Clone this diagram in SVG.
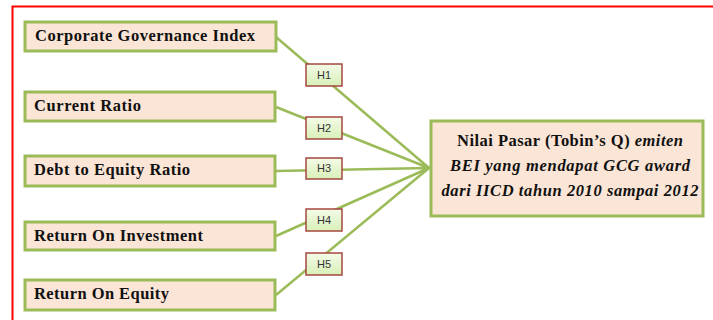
<svg xmlns="http://www.w3.org/2000/svg" width="713" height="320" viewBox="0 0 713 320">
<defs>
<linearGradient id="hg" x1="0" y1="0" x2="0" y2="1">
<stop offset="0" stop-color="#f4fbe8"/>
<stop offset="1" stop-color="#d8f0b8"/>
</linearGradient>
<marker id="ah" markerWidth="8" markerHeight="8" refX="6" refY="4" orient="auto" markerUnits="userSpaceOnUse">
<path d="M0,0 L7,4 L0,8 Z" fill="#9bbb59"/>
</marker>
</defs>
<style>
.box{fill:#fbe5d6;stroke:#9bbb59;stroke-width:3}
.lbl{font-family:"Liberation Serif","Times New Roman",serif;font-weight:bold;font-size:16.5px;fill:#111}
.hb{fill:url(#hg);stroke:#a5473f;stroke-width:1.5}
.ht{font-family:"Liberation Sans",Arial,sans-serif;font-size:11px;fill:#333;text-anchor:middle}
.ln{stroke:#9bbb59;stroke-width:2.5;fill:none}
.tt{font-family:"Liberation Serif","Times New Roman",serif;font-weight:bold;font-size:16.5px;fill:#111;text-anchor:middle}
</style>
<rect width="713" height="320" fill="#fff"/>
<path d="M12.5 320 V6.5 H713" fill="none" stroke="#ff0000" stroke-width="2"/>
<g id="connectors">
<line class="ln" x1="276" y1="37" x2="429" y2="168"/>
<line class="ln" x1="276" y1="107" x2="429" y2="168"/>
<line class="ln" x1="276" y1="171" x2="429" y2="168"/>
<line class="ln" x1="276" y1="236" x2="429" y2="168"/>
<line class="ln" x1="276" y1="295" x2="429" y2="168"/>
<line class="ln" x1="420" y1="168" x2="430" y2="168" marker-end="url(#ah)"/>
</g>
<g id="n1"><rect class="box" x="25" y="22" width="251" height="29"/><text class="lbl" x="35" y="41" textLength="220" lengthAdjust="spacing">Corporate Governance Index</text></g>
<g id="n2"><rect class="box" x="25" y="92" width="250" height="29"/><text class="lbl" x="34" y="111" textLength="107" lengthAdjust="spacing">Current Ratio</text></g>
<g id="n3"><rect class="box" x="25" y="156" width="250" height="30"/><text class="lbl" x="34" y="175" textLength="156" lengthAdjust="spacing">Debt to Equity Ratio</text></g>
<g id="n4"><rect class="box" x="25" y="222" width="250" height="28"/><text class="lbl" x="34" y="241" textLength="169" lengthAdjust="spacing">Return On Investment</text></g>
<g id="n5"><rect class="box" x="25" y="280" width="250" height="30"/><text class="lbl" x="34" y="299" textLength="135" lengthAdjust="spacing">Return On Equity</text></g>
<g id="h1"><rect class="hb" x="306" y="64" width="36" height="22"/><text class="ht" x="324" y="79">H1</text></g>
<g id="h2"><rect class="hb" x="306" y="117" width="36" height="22"/><text class="ht" x="324" y="132">H2</text></g>
<g id="h3"><rect class="hb" x="306" y="158" width="36" height="21"/><text class="ht" x="324" y="172">H3</text></g>
<g id="h4"><rect class="hb" x="306" y="209" width="36" height="22"/><text class="ht" x="324" y="224">H4</text></g>
<g id="h5"><rect class="hb" x="306" y="253" width="36" height="22"/><text class="ht" x="324" y="268">H5</text></g>
<g id="target"><rect class="box" x="431" y="121" width="272" height="95"/>
<text class="tt" x="570" y="146" textLength="226" lengthAdjust="spacing">Nilai Pasar (Tobin’s Q) <tspan font-style="italic">emiten</tspan></text>
<text class="tt" x="570" y="171" font-style="italic" textLength="240" lengthAdjust="spacing">BEI yang mendapat GCG award</text>
<text class="tt" x="570" y="196" font-style="italic" textLength="257" lengthAdjust="spacing">dari IICD tahun 2010 sampai 2012</text>
</g>
</svg>
